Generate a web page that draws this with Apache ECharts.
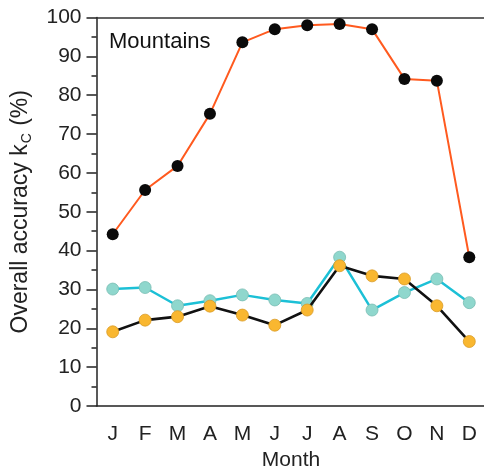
<!DOCTYPE html>
<html>
<head>
<meta charset="utf-8">
<script src="https://cdn.jsdelivr.net/npm/echarts@6/dist/echarts.min.js"></script>
<style>html,body{margin:0;padding:0;background:#fff}#c{width:484px;height:468px}</style>
</head>
<body>
<div id="c"></div>
<script>
const months = ['J','F','M','A','M','J','J','A','S','O','N','D'];
const yTicks = [0,10,20,30,40,50,60,70,80,90,100];
const mountainsA = [44.2, 55.6, 61.8, 75.2, 93.6, 97.0, 98.0, 98.3, 97.0, 84.2, 83.7, 38.3];
const mountainsB = [30.1, 30.5, 25.8, 27.1, 28.6, 27.3, 26.4, 38.3, 24.7, 29.2, 32.7, 26.6];
const mountainsC = [19.1, 22.1, 23.0, 25.7, 23.4, 20.8, 24.7, 36.1, 33.5, 32.7, 25.8, 16.6];
const panelLabel = 'Mountains';

const font = 'Liberation Sans, Arial, sans-serif';
const chart = echarts.init(document.getElementById('c'), null, {renderer: 'canvas'});
chart.setOption({
  animation: false,
  backgroundColor: '#ffffff',
  grid: {left: 96.5, top: 17.5, width: 389, height: 388.5, show: false, containLabel: false, outerBoundsMode: 'none'},
  title: {text: panelLabel, left: 104, top: 26, textStyle: {fontFamily: font, fontSize: 22, fontWeight: 'normal', color: '#111'}},
  xAxis: [{
    type: 'category', data: months, boundaryGap: true,
    name: 'Month', nameLocation: 'middle', nameGap: 44,
    nameTextStyle: {fontFamily: font, fontSize: 21, color: '#222'},
    axisLine: {lineStyle: {color: '#222', width: 1.5}},
    axisTick: {alignWithLabel: true, length: 9, lineStyle: {color: '#222', width: 1.5}},
    axisLabel: {fontFamily: font, fontSize: 21, color: '#222', margin: 18},
    splitLine: {show: false}
  }, {
    type: 'category', data: months, position: 'top', boundaryGap: true,
    axisLine: {show: true, lineStyle: {color: '#333', width: 1.5}},
    axisTick: {show: false}, axisLabel: {show: false}, splitLine: {show: false}
  }],
  yAxis: {
    type: 'value', min: yTicks[0], max: yTicks[yTicks.length-1], interval: 10,
    name: '{a|Overall accuracy k}{s|C}{a| (%)}', nameLocation: 'middle', nameGap: 58, nameRotate: 90,
    nameTextStyle: {fontFamily: font, color: '#222',
      rich: {a: {fontFamily: font, fontSize: 23, color: '#222', lineHeight: 30, verticalAlign: 'middle'},
             s: {fontFamily: font, fontSize: 14, color: '#222', lineHeight: 30, verticalAlign: 'bottom', padding: [0,1,1,1]}}},
    axisLine: {show: true, lineStyle: {color: '#222', width: 1.5}},
    axisTick: {show: true, length: 10, lineStyle: {color: '#222', width: 1.5}},
    minorTick: {show: true, splitNumber: 2, length: 5, lineStyle: {color: '#222', width: 1.5}},
    axisLabel: {fontFamily: font, fontSize: 21, color: '#222', margin: 15},
    splitLine: {show: false}
  },
  series: [
    {type: 'line', data: mountainsA, symbol: 'circle', symbolSize: 12, z: 2,
     lineStyle: {color: '#ff5a1f', width: 2}, itemStyle: {color: '#0a0a0a', borderColor: '#0a0a0a', borderWidth: 0}},
    {type: 'line', data: mountainsB, symbol: 'circle', symbolSize: 12, z: 3,
     lineStyle: {color: '#1cc0d6', width: 2.5}, itemStyle: {color: '#8fd7cd', borderColor: '#77bdb3', borderWidth: 0.8}},
    {type: 'line', data: mountainsC, symbol: 'circle', symbolSize: 12, z: 4,
     lineStyle: {color: '#111', width: 2.6}, itemStyle: {color: '#f9b730', borderColor: '#d99a25', borderWidth: 0.8}}
  ]
});
</script>
</body>
</html>
